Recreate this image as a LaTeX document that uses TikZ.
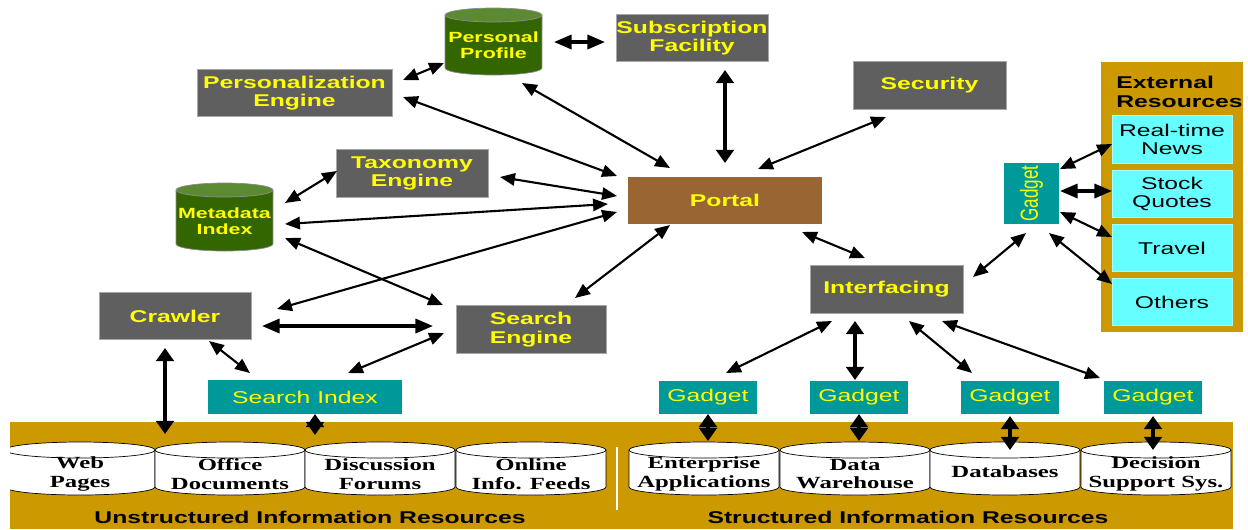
\documentclass[tikz,border=0pt]{standalone}
\usepackage{fontspec}
\usetikzlibrary{arrows.meta}
\usetikzlibrary{calc}
\setmainfont{Liberation Sans}[FakeStretch=1.45]
\newfontfamily\drumfont{Liberation Serif}[FakeStretch=1.45]
\newfontfamily\plainsans{Liberation Sans}
\definecolor{boxgrey}{HTML}{5F5F5F}
\definecolor{portalbrown}{HTML}{996633}
\definecolor{gadgetteal}{HTML}{009999}
\definecolor{rescyan}{HTML}{66FFFF}
\definecolor{bandgold}{HTML}{CC9900}
\definecolor{drumgreen}{HTML}{336600}
\definecolor{drumtop}{HTML}{5C8A33}
\definecolor{labelyellow}{HTML}{FFFF00}

\begin{document}
\begin{tikzpicture}[x=0.02cm,y=-0.02cm,
  txt/.style={font=\fontsize{9.7}{10.6}\selectfont,align=center,inner sep=0pt},
  greybox/.style={txt,font=\fontsize{9.7}{10.6}\selectfont\bfseries,draw=boxgrey!55!white,fill=boxgrey,text=labelyellow,minimum height=0.95cm},
  tealbox/.style={txt,fill=gadgetteal,text=labelyellow},
  cyanbox/.style={txt,fill=rescyan,draw=rescyan!60!white,minimum width=2.4cm,minimum height=0.95cm},
  drumtext/.style={txt,font=\fontsize{9.7}{10.6}\selectfont\drumfont\bfseries},
  greentext/.style={txt,font=\fontsize{8.4}{9}\selectfont\bfseries,text=labelyellow},
  dbl/.style={{Triangle[length=8.5pt,width=7pt]}-{Triangle[length=8.5pt,width=7pt]},line width=1.2pt},
  dblmid/.style={{Triangle[length=10pt,width=8pt]}-{Triangle[length=10pt,width=8pt]},line width=1.8pt},
  dblheavy/.style={{Triangle[length=7.5pt,width=10pt]}-{Triangle[length=7.5pt,width=10pt]},line width=2.4pt}]
\useasboundingbox (0,0) rectangle (1248,529);

% resource bands
\fill[bandgold] (10,422) rectangle (1233,529);
\fill[bandgold] (1101,62) rectangle (1243,332);
\draw[white,line width=1pt] (617,447) -- (617,510);

% storage drums
\begin{scope}
\clip (10,422) rectangle (1233,529);
\foreach \cx in {80,230,380,531,704,855,1005,1156}{
\draw[black,thin,fill=white] (\cx-75,450) -- (\cx-75,487) arc[start angle=180,end angle=360,x radius=1.5cm,y radius=0.16cm] -- (\cx+75,450);
\draw[black,thin,fill=white] (\cx,450) ellipse[x radius=1.5cm,y radius=0.16cm];
}
\end{scope}
\draw[black!45,thin,fill=drumgreen] (445,15) -- (445,68) arc[start angle=180,end angle=360,x radius=0.97cm,y radius=0.14cm] -- (542,15);
\draw[black!45,thin,fill=drumtop] (493.5,15) ellipse[x radius=0.97cm,y radius=0.14cm];
\draw[black!45,thin,fill=drumgreen] (176,190) -- (176,244) arc[start angle=180,end angle=360,x radius=0.97cm,y radius=0.14cm] -- (273,190);
\draw[black!45,thin,fill=drumtop] (224.5,190) ellipse[x radius=0.97cm,y radius=0.14cm];

\node[drumtext] (web) at (80,474) {Web\\Pages};
\node[drumtext] (office) at (230,474) {Office\\Documents};
\node[drumtext] (disc) at (380,474) {Discussion\\Forums};
\node[drumtext] (online) at (531,474) {Online\\Info. Feeds};
\node[drumtext] (ent) at (704,474) {Enterprise\\Applications};
\node[drumtext] (dw) at (855,474) {Data\\Warehouse};
\node[drumtext] (db) at (1005,472) {Databases};
\node[drumtext] (dss) at (1156,474) {Decision\\Support Sys.};
\node[txt,font=\fontsize{9.7}{10.6}\selectfont\bfseries] (unstruct) at (310,517) {Unstructured Information Resources};
\node[txt,font=\fontsize{9.7}{10.6}\selectfont\bfseries] (struct) at (908,517) {Structured Information Resources};

% portal side
\node[greentext] (profile) at (493.5,45) {Personal\\Profile};
\node[greentext] (metaIdx) at (224.5,221) {Metadata\\Index};
\node[greybox,minimum width=3.9cm] (persEng) at (294.5,93) {Personalization\\Engine};
\node[greybox,minimum width=3.04cm] (subsFac) at (692,38) {Subscription\\Facility};
\node[greybox,minimum width=3.04cm] (taxEng) at (412,173.5) {Taxonomy\\Engine};
\node[greybox,minimum width=3.06cm] (security) at (929.5,85.5) {Security};
\node[greybox,draw=none,fill=portalbrown,minimum width=3.88cm] (portal) at (725,200.5) {Portal};
\node[greybox,minimum width=3.06cm] (interf) at (886.5,289.5) {Interfacing};
\node[greybox,minimum width=3.04cm] (crawler) at (175,316) {Crawler};
\node[greybox,minimum width=3cm] (searchEng) at (531,329.5) {Search\\Engine};
\node[tealbox,minimum width=3.88cm,minimum height=0.68cm] (searchIdx) at (305,397) {Search Index};

% gadgets
\node[tealbox,minimum width=1.96cm,minimum height=0.66cm] (gadgetA) at (708,397.5) {Gadget};
\node[tealbox,minimum width=1.96cm,minimum height=0.66cm] (gadgetB) at (859,397.5) {Gadget};
\node[tealbox,minimum width=1.96cm,minimum height=0.66cm] (gadgetC) at (1010,397.5) {Gadget};
\node[tealbox,minimum width=1.96cm,minimum height=0.66cm] (gadgetD) at (1153,397.5) {Gadget};
\node[tealbox,minimum width=1.1cm,minimum height=1.22cm] (sideGadget) at (1031.5,193.5) {\rotatebox{90}{\scalebox{1}[1.45]{\plainsans Gadget}}};

% external resources
\node[txt,font=\fontsize{9.7}{10.6}\selectfont\bfseries,anchor=west,align=left] (extTitle) at (1116,92) {External\\Resources};
\node[cyanbox] (news) at (1172,139.5) {Real-time\\News};
\node[cyanbox] (stock) at (1172,194) {Stock\\Quotes};
\node[cyanbox] (travel) at (1172,248) {Travel};
\node[cyanbox] (others) at (1172,302) {Others};

% links
\draw[dblmid] ($(profile)+(60.5,-3)$) -- ($(subsFac)+(-87,4)$);
\draw[dbl] ($(persEng)+(108.5,-13)$) -- ($(profile)+(-49.5,18)$);
\draw[dblheavy] ($(subsFac)+(33,32)$) -- ($(portal)+(0,-37.5)$);
\draw[dbl] ($(persEng)+(108.5,4)$) -- ($(portal)+(-108,-24.5)$);
\draw[dbl] ($(profile)+(28.5,38)$) -- ($(portal)+(-55,-32.5)$);
\draw[dbl] ($(security)+(-43.5,31.5)$) -- ($(portal)+(33,-31.5)$);
\draw[dbl] ($(taxEng)+(88,3.5)$) -- ($(portal)+(-108,-4.5)$);
\draw[dbl] ($(metaIdx)+(60.5,-18)$) -- ($(taxEng)+(-75,-2.5)$);
\draw[dbl] ($(metaIdx)+(60.5,3)$) -- ($(portal)+(-117,3.5)$);
\draw[dbl] ($(crawler)+(102,-7)$) -- ($(portal)+(-108,11.5)$);
\draw[dbl] ($(metaIdx)+(60.5,17)$) -- ($(searchEng)+(-88,-24.5)$);
\draw[dbl] ($(portal)+(-55,24.5)$) -- ($(searchEng)+(44,-31.5)$);
\draw[dblmid] ($(crawler)+(87,10)$) -- ($(searchEng)+(-98,-3.5)$);
\draw[dbl] ($(crawler)+(34,25)$) -- ($(searchIdx)+(-55,-24)$);
\draw[dbl] ($(searchIdx)+(43,-24)$) -- ($(searchEng)+(-87,3.5)$);
\draw[dblheavy] ($(crawler)+(-10,32)$) -- ($(office)+(-65,-40)$);
\draw[dblheavy] ($(searchIdx)+(10,17)$) -- ($(disc)+(-65,-39)$);
\draw[dbl] ($(portal)+(77,31.5)$) -- ($(interf)+(-21.5,-31.5)$);
\draw[dbl] ($(interf)+(86.5,-12.5)$) -- ($(sideGadget)+(-5.5,39.5)$);
\draw[dbl] ($(sideGadget)+(28.5,-24.5)$) -- ($(news)+(-60,4.5)$);
\draw[dblmid] ($(sideGadget)+(28.5,-2.5)$) -- ($(stock)+(-60,-3)$);
\draw[dbl] ($(sideGadget)+(28.5,18.5)$) -- ($(travel)+(-60,-11)$);
\draw[dbl] ($(sideGadget)+(17.5,39.5)$) -- ($(others)+(-60,-18)$);
\draw[dbl] ($(interf)+(-54.5,31.5)$) -- ($(gadgetA)+(18,-24.5)$);
\draw[dblheavy] ($(interf)+(-31.5,31.5)$) -- ($(gadgetB)+(-4,-17.5)$);
\draw[dbl] ($(interf)+(22.5,31.5)$) -- ($(gadgetC)+(-38,-24.5)$);
\draw[dbl] ($(interf)+(55.5,31.5)$) -- ($(gadgetD)+(-53,-19.5)$);
\draw[dblheavy] ($(gadgetA)+(0,16.5)$) -- ($(ent)+(4,-33)$);
\draw[dblheavy] ($(gadgetB)+(0,16.5)$) -- ($(dw)+(4,-33)$);
\draw[dblheavy] ($(gadgetC)+(0,18.5)$) -- ($(db)+(5,-22)$);
\draw[dblheavy] ($(gadgetD)+(0,18.5)$) -- ($(dss)+(-3,-24)$);

\end{tikzpicture}
\end{document}
